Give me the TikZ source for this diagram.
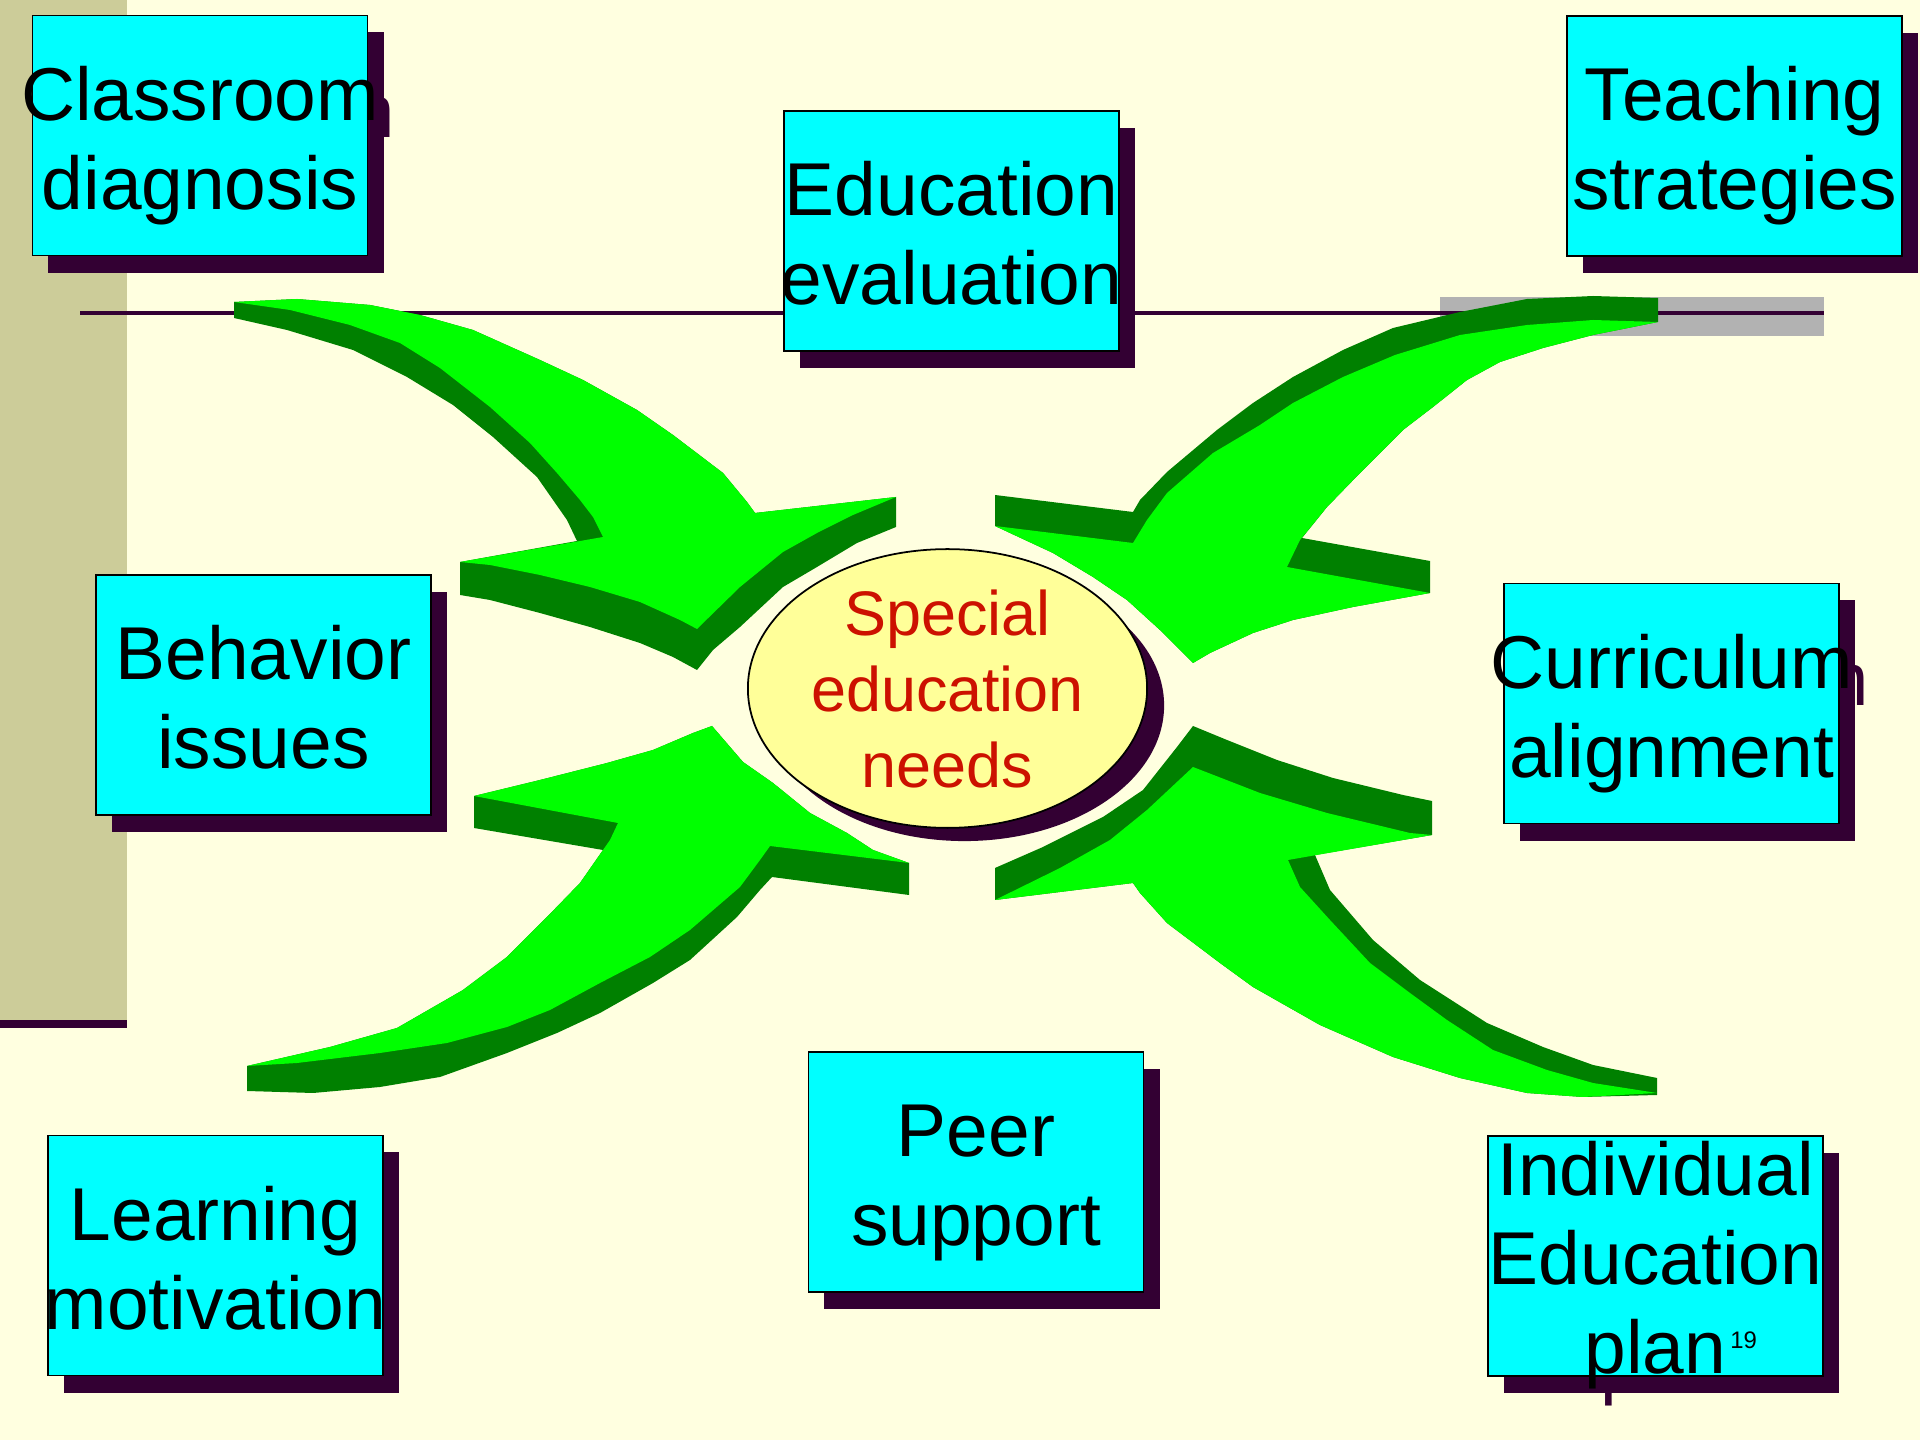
\documentclass[tikz,border=0pt]{standalone}
\usepackage{fontspec}
\setmainfont{Liberation Sans}
\usepackage[dvipsnames]{xcolor}
\usepackage{tikz}
\usetikzlibrary{shapes.geometric}

\definecolor{cream}{RGB}{255,255,224}
\definecolor{stripetan}{RGB}{204,204,153}
\definecolor{plum}{RGB}{51,0,51}
\definecolor{rulegrey}{RGB}{178,178,178}
\definecolor{boxcyan}{RGB}{0,255,255}
\definecolor{leafgreen}{RGB}{0,255,0}
\definecolor{darkleaf}{RGB}{0,128,0}
\definecolor{paleyellow}{RGB}{255,255,153}
\definecolor{needred}{RGB}{204,17,0}

\begin{document}
\begin{tikzpicture}[x=0.01cm, y=-0.01cm]
  \tikzstyle{topic}=[rectangle, draw, line width=0.5pt, fill=boxcyan, minimum width=3.35cm, minimum height=2.4cm, inner xsep=-0.3cm, inner ysep=0pt, align=center, text height=1.6cm, text depth=0.13cm, font=\fontsize{21.3}{25.3}\selectfont]
  \tikzstyle{topicshadow}=[topic, draw=none, fill=plum, text=plum]
  \tikzstyle{hub}=[ellipse, minimum width=3.99cm, minimum height=2.71cm, inner sep=0pt]
  \tikzstyle{leafside}=[fill=darkleaf]
  \tikzstyle{leaftop}=[fill=leafgreen]
  \fill[cream] (0,0) rectangle (1920,1440);
  \fill[stripetan] (0,0) rectangle (127,1020);
  \fill[plum] (0,1020) rectangle (127,1028);
  \fill[rulegrey] (1440,297) rectangle (1824,336);
  \draw[plum, line width=1.1pt] (80,313) -- (1824,313);
  % upper left arrow
  \path[leafside] (234,302) -- (297,299) -- (370,305) -- (420,315) -- (473,330) -- (540,360) -- (583,380) -- (637,410) -- (673,435) -- (723,473) -- (747,502) -- (755,513) -- (896,497) -- (896,527) -- (857,543) -- (817,567) -- (783,587) -- (740,627) -- (713,650) -- (697,670) -- (673,657) -- (640,643) -- (590,627) -- (540,613) -- (490,600) -- (460,595) -- (460,562) -- (577,541) -- (567,520) -- (537,477) -- (493,437) -- (453,405) -- (407,377) -- (353,350) -- (287,330) -- (234,318) -- cycle;
  \path[leaftop] (234,302) -- (297,299) -- (370,305) -- (420,315) -- (473,330) -- (540,360) -- (583,380) -- (637,410) -- (673,435) -- (723,473) -- (747,502) -- (755,513) -- (896,497) -- (853,515) -- (817,533) -- (783,552) -- (740,587) -- (697,629) -- (680,620) -- (640,602) -- (590,587) -- (540,575) -- (490,565) -- (460,562) -- (603,537) -- (593,517) -- (580,500) -- (557,473) -- (530,443) -- (490,407) -- (440,368) -- (400,343) -- (350,325) -- (290,310) -- cycle;
  % lower left arrow
  \path[leafside] (247,1066) -- (330,1047) -- (397,1028) -- (463,990) -- (507,957) -- (547,917) -- (580,883) -- (603,850) -- (474,828) -- (474,796) -- (540,780) -- (607,763) -- (653,750) -- (693,733) -- (712,726) -- (743,762) -- (773,783) -- (810,813) -- (847,833) -- (873,850) -- (909,863) -- (909,895) -- (772,877) -- (760,890) -- (737,917) -- (690,960) -- (653,983) -- (600,1013) -- (557,1033) -- (507,1053) -- (440,1077) -- (380,1087) -- (313,1093) -- (247,1091) -- cycle;
  \path[leaftop] (247,1066) -- (330,1047) -- (397,1028) -- (463,990) -- (507,957) -- (547,917) -- (580,883) -- (610,840) -- (618,823) -- (474,796) -- (540,780) -- (607,763) -- (653,750) -- (693,733) -- (712,726) -- (743,762) -- (773,783) -- (810,813) -- (847,833) -- (873,850) -- (909,863) -- (770,846) -- (760,860) -- (740,887) -- (690,930) -- (650,957) -- (600,983) -- (550,1010) -- (507,1027) -- (447,1043) -- (380,1053) -- (297,1063) -- cycle;
  % upper right arrow
  \path[leafside] (1658,322) -- (1658,298) -- (1593,296) -- (1527,299) -- (1460,312) -- (1393,328) -- (1343,350) -- (1293,377) -- (1253,403) -- (1217,430) -- (1167,472) -- (1140,500) -- (1133,512) -- (995,495) -- (995,526) -- (1053,553) -- (1093,577) -- (1127,600) -- (1160,630) -- (1193,663) -- (1210,653) -- (1253,633) -- (1293,620) -- (1353,607) -- (1430,593) -- (1430,561) -- (1302,538) -- (1327,507) -- (1360,473) -- (1403,430) -- (1433,407) -- (1467,380) -- (1500,362) -- (1543,348) -- (1593,335) -- cycle;
  \path[leaftop] (1658,322) -- (1593,320) -- (1527,325) -- (1460,335) -- (1395,355) -- (1343,377) -- (1293,403) -- (1260,425) -- (1213,453) -- (1167,493) -- (1147,520) -- (1133,543) -- (995,526) -- (1053,553) -- (1093,577) -- (1127,600) -- (1160,630) -- (1193,663) -- (1210,653) -- (1253,633) -- (1293,620) -- (1353,607) -- (1430,593) -- (1287,567) -- (1300,540) -- (1327,507) -- (1360,473) -- (1403,430) -- (1433,407) -- (1467,380) -- (1500,362) -- (1543,348) -- (1593,335) -- cycle;
  % lower right arrow
  \path[leafside] (995,900) -- (995,868) -- (1043,847) -- (1103,817) -- (1143,790) -- (1177,747) -- (1193,726) -- (1227,740) -- (1277,760) -- (1333,778) -- (1403,795) -- (1432,801) -- (1432,835) -- (1315,855) -- (1330,890) -- (1373,940) -- (1420,980) -- (1487,1023) -- (1543,1047) -- (1593,1065) -- (1657,1078) -- (1657,1095) -- (1583,1097) -- (1527,1093) -- (1460,1078) -- (1393,1057) -- (1320,1025) -- (1253,987) -- (1220,963) -- (1167,923) -- (1140,893) -- (1133,883) -- cycle;
  \path[leaftop] (995,900) -- (1060,868) -- (1110,840) -- (1147,810) -- (1193,767) -- (1260,793) -- (1327,813) -- (1410,833) -- (1432,835) -- (1288,860) -- (1300,887) -- (1330,920) -- (1370,963) -- (1410,993) -- (1447,1020) -- (1493,1050) -- (1547,1070) -- (1593,1083) -- (1657,1093) -- (1583,1097) -- (1527,1093) -- (1460,1078) -- (1393,1057) -- (1320,1025) -- (1253,987) -- (1220,963) -- (1167,923) -- (1140,893) -- (1133,883) -- cycle;
  % centre
  \node[hub, fill=plum] (H_s) at (964.5,705.5) {};
  \node[hub, draw, line width=0.5pt, fill=paleyellow, align=center, text=needred, text height=1.97cm, text depth=-0.06cm, font=\fontsize{17.9}{21.5}\selectfont] (H) at (947.5,688.5) {Special\\education\\needs};
  % topics
  \node[topicshadow] (S_1) at (216,152.5) {Classroom\\diagnosis};
  \node[topic] (T_1) at (200,135.5) {Classroom\\diagnosis};
  \node[topicshadow] (S_2) at (967.5,248) {Education\\evaluation};
  \node[topic] (T_2) at (951.5,231) {Education\\evaluation};
  \node[topicshadow] (S_3) at (1750.5,153) {Teaching\\strategies};
  \node[topic] (T_3) at (1734.5,136) {Teaching\\strategies};
  \node[topicshadow] (S_4) at (279.5,712) {Behavior\\issues};
  \node[topic] (T_4) at (263.5,695) {Behavior\\issues};
  \node[topicshadow] (S_5) at (1687.5,720.5) {Curriculum\\alignment};
  \node[topic] (T_5) at (1671.5,703.5) {Curriculum\\alignment};
  \node[topicshadow] (S_6) at (231.5,1272.5) {Learning\\motivation};
  \node[topic] (T_6) at (215.5,1255.5) {Learning\\motivation};
  \node[topicshadow] (S_7) at (992,1189) {Peer\\support};
  \node[topic] (T_7) at (976,1172) {Peer\\support};
  \node[topicshadow, text height=2.36cm, text depth=0.02cm] (S_8) at (1671.5,1273) {Individual\\Education\\plan};
  \node[topic, text height=2.36cm, text depth=0.02cm] (T_8) at (1655.5,1256) {Individual\\Education\\plan\rlap{\kern0.04cm\raisebox{0.25cm}{\fontsize{6.8}{8}\selectfont 19}}};
\end{tikzpicture}
\end{document}
